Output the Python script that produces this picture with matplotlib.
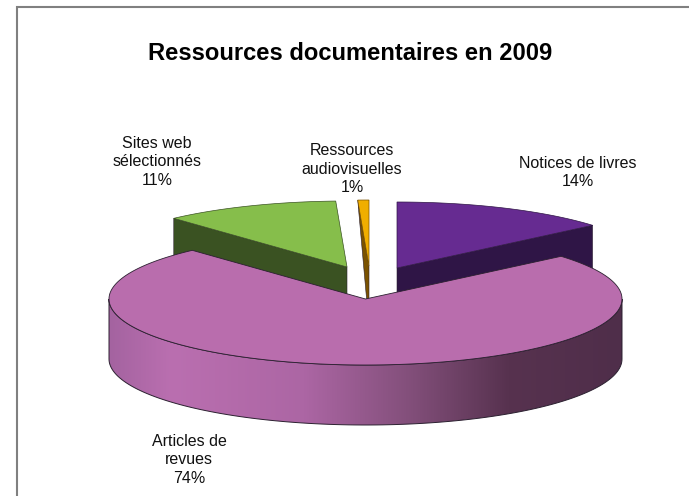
import numpy as np
import matplotlib
matplotlib.use("Agg")
import matplotlib.pyplot as plt
from matplotlib.colors import LinearSegmentedColormap
from matplotlib.patches import Polygon

# valeurs (ordre : sens horaire depuis midi)
categories = ["Notices de livres", "Articles de\nrevues", "Sites web\nsélectionnés",
              "Ressources\naudiovisuelles"]
valeurs = [13.8, 74.4, 11.1, 0.7]
titre = "Ressources documentaires en 2009"

# geometrie du camembert, en pixels
A, B, EP = 256.5, 66, 60
CENTRES = [(397, 268), (365.5, 299), (347, 267), (369, 266)]
POS_LABELS = [(578, 172.5), (189, 460), (157, 162), (352, 169)]
COUL_HAUT = ["#662B91", "#B96DAD", "#86BE4B", "#F0AE00"]
COUL_COTE = ["#2F1546", None, "#3A5222", "#7A5200"]
TRAIT = "#2b2030"


def point(centre, theta):
    t = np.radians(theta)
    return centre[0] + A * np.sin(t), centre[1] - B * np.cos(t)


def arc(centre, t0, t1, n=120):
    t = np.radians(np.linspace(t0, t1, n))
    return np.column_stack([centre[0] + A * np.sin(t), centre[1] - B * np.cos(t)])


fig = plt.figure(figsize=(6.89, 4.96), dpi=100)
ax = fig.add_axes([0, 0, 1, 1])
ax.set_xlim(0, 689)
ax.set_ylim(496, 0)
ax.axis("off")

# cadre : seulement en haut et a gauche
ax.plot([17, 17, 689], [496, 6.8, 6.8], color="#808080", lw=1.5, solid_joinstyle="miter")

bornes = np.concatenate([[0], np.cumsum(valeurs)]) * 3.6

# faces laterales et dessus, du fond vers l'avant (l'articles passe en dernier)
for i in [0, 2, 3]:
    c = CENTRES[i]
    t0, t1 = bornes[i], bornes[i + 1]
    if i == 0:
        ext = point(c, t1)
    else:
        ext = point(c, t0)
    if i == 3:
        # tranche tres fine : la face se reduit a un triangle
        cote = [ext, c, (c[0], c[1] + EP)]
    else:
        cote = [ext, c, (c[0], c[1] + EP), (ext[0], ext[1] + EP)]
    ax.add_patch(Polygon(cote, closed=True, fc=COUL_COTE[i], ec=TRAIT, lw=0.4, zorder=2))
    haut = np.vstack([[c], arc(c, t0, t1)])
    ax.add_patch(Polygon(haut, closed=True, fc=COUL_HAUT[i], ec=COUL_COTE[i], lw=0.5, zorder=3))

# articles de revues : flanc en degrade
c = CENTRES[1]
bord = arc(c, 90, 270)
flanc = np.vstack([bord, bord[::-1] + [0, EP]])
clip = Polygon(flanc, closed=True, fc="none", ec=TRAIT, lw=0.7, zorder=5)
ax.add_patch(clip)
degrade = LinearSegmentedColormap.from_list("flanc", [
    (0.0, "#A463A0"), (0.12, "#BA6FB0"), (0.38, "#AC66A4"), (0.58, "#84507C"),
    (0.78, "#57324F"), (1.0, "#4F2E4A")])
im = ax.imshow(np.linspace(0, 1, 256)[None, :], cmap=degrade, aspect="auto", zorder=4,
               extent=[c[0] - A, c[0] + A, c[1] + B + EP, c[1]])
im.set_clip_path(clip)
ax.set_xlim(0, 689)
ax.set_ylim(496, 0)

haut = np.vstack([[c], arc(c, bornes[1], bornes[2], 300)])
ax.add_patch(Polygon(haut, closed=True, fc=COUL_HAUT[1], ec=TRAIT, lw=0.6, zorder=6))

# textes
police = "Liberation Sans"
ax.text(350, 53, titre, ha="center", va="center", fontsize=17.1, fontweight="bold",
        family=police, color="black")
for nom, val, pos in zip(categories, valeurs, POS_LABELS):
    ax.text(pos[0], pos[1], f"{nom}\n{round(val)}%", ha="center", va="center",
            fontsize=11.5, family=police, color="#111111", linespacing=1.27, zorder=7)

fig.savefig("out.png", dpi=100)
